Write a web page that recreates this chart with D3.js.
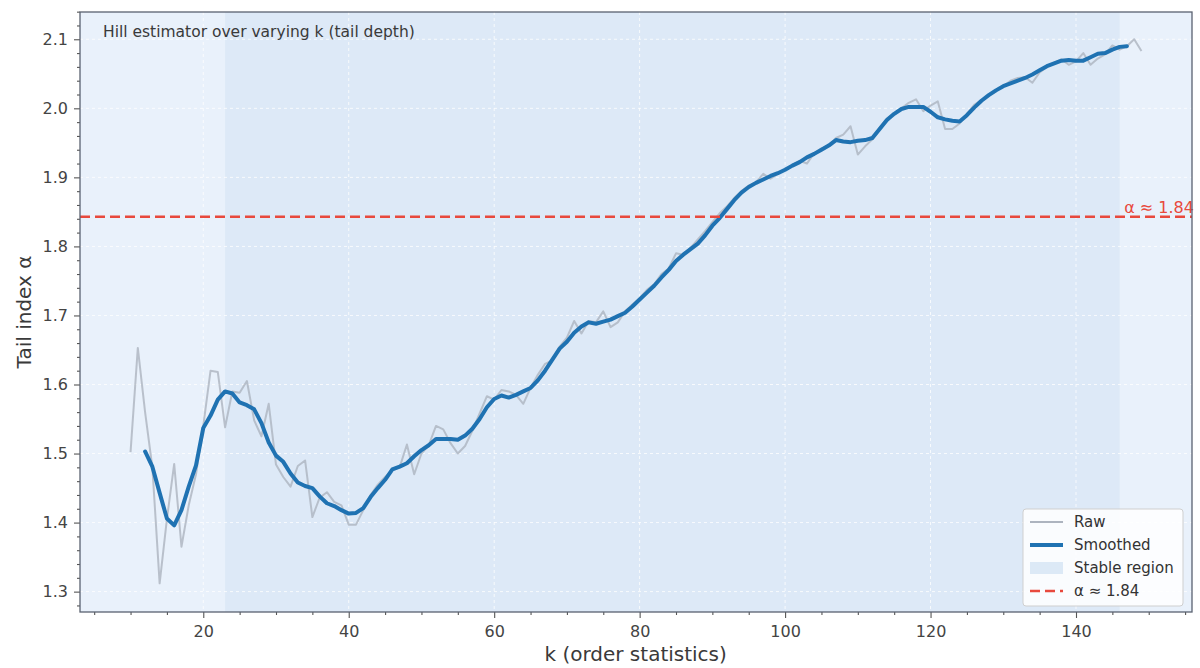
<!DOCTYPE html>
<html>
<head>
<meta charset="utf-8">
<script src="https://cdn.jsdelivr.net/npm/d3@7"></script>
<style>
  body { margin: 0; background: #fff; }
  svg { font-family: "DejaVu Sans", sans-serif; }
</style>
</head>
<body>
<svg id="chart" width="1200" height="668"></svg>
<script>
// raw Hill estimates, k = 10 .. 149
var rawK0 = 10;
var rawAlpha = [
  1.502, 1.653, 1.560, 1.480, 1.312, 1.405, 1.485, 1.365, 1.425, 1.470,
  1.540, 1.620, 1.618, 1.538, 1.590, 1.588, 1.605, 1.548, 1.525, 1.572,
  1.484, 1.466, 1.452, 1.482, 1.490, 1.408, 1.436, 1.444, 1.430, 1.425,
  1.397, 1.397, 1.418, 1.440, 1.455, 1.466, 1.476, 1.480, 1.513, 1.470,
  1.500, 1.512, 1.540, 1.535, 1.515, 1.500, 1.511, 1.533, 1.558, 1.583,
  1.578, 1.592, 1.590, 1.585, 1.572, 1.595, 1.614, 1.630, 1.635, 1.655,
  1.668, 1.692, 1.674, 1.692, 1.690, 1.706, 1.683, 1.690, 1.706, 1.716,
  1.725, 1.737, 1.745, 1.760, 1.768, 1.790, 1.788, 1.798, 1.810, 1.822,
  1.835, 1.848, 1.858, 1.870, 1.880, 1.888, 1.893, 1.905, 1.898, 1.905,
  1.912, 1.918, 1.924, 1.920, 1.935, 1.942, 1.946, 1.957, 1.962, 1.974,
  1.933, 1.945, 1.955, 1.972, 1.985, 1.992, 2.000, 2.008, 2.013, 1.996,
  2.004, 2.010, 1.970, 1.970, 1.978, 1.992, 2.005, 2.012, 2.018, 2.025,
  2.032, 2.040, 2.044, 2.045, 2.037, 2.052, 2.060, 2.066, 2.071, 2.063,
  2.068, 2.080, 2.063, 2.072, 2.078, 2.091, 2.085, 2.090, 2.100, 2.083
];

// smoothed curve, k = 12 .. 147
var smoothK0 = 12;
var smoothAlpha = [
  1.503, 1.481, 1.443, 1.406, 1.396, 1.418, 1.452, 1.483, 1.537, 1.555,
  1.578, 1.590, 1.587, 1.574, 1.570, 1.564, 1.544, 1.516, 1.497, 1.488,
  1.471, 1.458, 1.453, 1.450, 1.438, 1.428, 1.424, 1.418, 1.413, 1.414,
  1.421, 1.437, 1.450, 1.462, 1.477, 1.481, 1.486, 1.496, 1.505, 1.512,
  1.521, 1.521, 1.521, 1.520, 1.526, 1.536, 1.550, 1.567, 1.579, 1.584,
  1.581, 1.585, 1.590, 1.595, 1.606, 1.620, 1.636, 1.652, 1.662, 1.675,
  1.684, 1.690, 1.688, 1.691, 1.694, 1.699, 1.704, 1.713, 1.723, 1.733,
  1.743, 1.755, 1.766, 1.779, 1.788, 1.796, 1.804, 1.816, 1.830, 1.841,
  1.854, 1.867, 1.878, 1.886, 1.892, 1.897, 1.902, 1.906, 1.911, 1.917,
  1.922, 1.929, 1.934, 1.940, 1.946, 1.954, 1.952, 1.951, 1.953, 1.954,
  1.957, 1.970, 1.983, 1.992, 1.999, 2.002, 2.002, 2.002, 1.995, 1.987,
  1.984, 1.982, 1.981, 1.990, 2.001, 2.011, 2.019, 2.026, 2.032, 2.036,
  2.040, 2.044, 2.049, 2.055, 2.061, 2.065, 2.069, 2.070, 2.069, 2.069,
  2.074, 2.079, 2.080, 2.085, 2.089, 2.090
];

var stableRange = [23, 146];
var alphaHat = 1.843;
var alphaLabel = "α ≈ 1.84";

var xTicks = [20, 40, 60, 80, 100, 120, 140];
var yTicks = [1.3, 1.4, 1.5, 1.6, 1.7, 1.8, 1.9, 2.0, 2.1];

var legendItems = ["Raw", "Smoothed", "Stable region", alphaLabel];

var raw = rawAlpha.map(function(v, i) { return {k: rawK0 + i, a: v}; });
var smooth = smoothAlpha.map(function(v, i) { return {k: smoothK0 + i, a: v}; });

var svg = d3.select("#chart"),
    margin = {top: 12, right: 8, bottom: 56, left: 80},
    width = 1200 - margin.left - margin.right,
    height = 668 - margin.top - margin.bottom,
    g = svg.append("g").attr("transform", "translate(" + margin.left + "," + margin.top + ")");

var x = d3.scaleLinear().domain([3.05, 155.95]).range([0, width]);
var y = d3.scaleLinear().domain([1.2705, 2.1395]).range([height, 0]);

// axes background
g.append("rect")
    .attr("width", width).attr("height", height)
    .attr("fill", "#e9f1fb");

// stable region
g.append("rect")
    .attr("x", x(stableRange[0]))
    .attr("width", x(stableRange[1]) - x(stableRange[0]))
    .attr("height", height)
    .attr("fill", "#cfe1f2")
    .attr("opacity", 0.45);

// grid
g.append("g").selectAll("line").data(xTicks).enter().append("line")
    .attr("x1", function(d) { return x(d); }).attr("x2", function(d) { return x(d); })
    .attr("y1", 0).attr("y2", height)
    .attr("stroke", "#fff").attr("stroke-width", 1).attr("stroke-dasharray", "3,3").attr("opacity", 0.8);
g.append("g").selectAll("line").data(yTicks).enter().append("line")
    .attr("y1", function(d) { return y(d); }).attr("y2", function(d) { return y(d); })
    .attr("x1", 0).attr("x2", width)
    .attr("stroke", "#fff").attr("stroke-width", 1).attr("stroke-dasharray", "3,3").attr("opacity", 0.8);

var line = d3.line()
    .x(function(d) { return x(d.k); })
    .y(function(d) { return y(d.a); });

g.append("path")
    .datum(raw)
    .attr("fill", "none")
    .attr("stroke", "#adb4bf")
    .attr("stroke-opacity", 0.8)
    .attr("stroke-width", 2)
    .attr("stroke-linejoin", "round")
    .attr("d", line);

g.append("path")
    .datum(smooth)
    .attr("fill", "none")
    .attr("stroke", "#1f72b2")
    .attr("stroke-width", 4)
    .attr("stroke-linejoin", "round")
    .attr("stroke-linecap", "round")
    .attr("d", line);

// reference line
g.append("line")
    .attr("x1", 0).attr("x2", width)
    .attr("y1", y(alphaHat)).attr("y2", y(alphaHat))
    .attr("stroke", "#e8493d")
    .attr("stroke-width", 2.5)
    .attr("stroke-dasharray", "10,5");

g.append("text")
    .attr("x", x(148) - 10)
    .attr("y", y(alphaHat) - 4)
    .attr("fill", "#e8493d")
    .attr("font-size", 16)
    .text(alphaLabel);

// title in the axes
g.append("text")
    .attr("x", 23).attr("y", 25)
    .attr("fill", "#3a3a3a")
    .attr("font-size", 15.5)
    .text("Hill estimator over varying k (tail depth)");

// axes
var xAxis = g.append("g")
    .attr("transform", "translate(0," + height + ")")
    .call(d3.axisBottom(x).tickValues(xTicks).tickFormat(d3.format("d")).tickSize(6).tickPadding(8));
var xMinor = g.append("g")
    .attr("transform", "translate(0," + height + ")")
    .call(d3.axisBottom(x).tickValues(d3.range(5, 156, 5).filter(function(d) { return d % 20 !== 0; })).tickFormat("").tickSize(3));

var yAxis = g.append("g")
    .call(d3.axisLeft(y).tickValues(yTicks).tickFormat(d3.format(".1f")).tickSize(6).tickPadding(6));
var yMinor = g.append("g")
    .call(d3.axisLeft(y).tickValues(d3.range(1.28, 2.14, 0.02).filter(function(d) {
        return Math.abs(d * 10 - Math.round(d * 10)) > 0.01;
    })).tickFormat("").tickSize(3));

[xAxis, xMinor, yAxis, yMinor].forEach(function(a) {
  a.select(".domain").remove();
  a.selectAll("line").attr("stroke", "#555").attr("stroke-width", 1.1);
  a.selectAll("text").attr("fill", "#444").attr("font-size", 16).attr("font-family", "DejaVu Sans");
});

// spines
g.append("rect")
    .attr("width", width).attr("height", height)
    .attr("fill", "none")
    .attr("stroke", "#5a6270")
    .attr("stroke-width", 1.3);

// axis labels
svg.append("text")
    .attr("x", margin.left + x(80) - 4)
    .attr("y", 661)
    .attr("text-anchor", "middle")
    .attr("fill", "#3a3a3a")
    .attr("font-size", 20)
    .text("k (order statistics)");

svg.append("text")
    .attr("transform", "translate(31," + (margin.top + height / 2) + ") rotate(-90)")
    .attr("text-anchor", "middle")
    .attr("fill", "#3a3a3a")
    .attr("font-size", 20)
    .text("Tail index α");

// legend
var lg = svg.append("g").attr("transform", "translate(1023,509)");
lg.append("rect")
    .attr("width", 160).attr("height", 97)
    .attr("rx", 3)
    .attr("fill", "#fff").attr("fill-opacity", 0.85)
    .attr("stroke", "#cfcfcf");

var rows = lg.selectAll("g.item").data(legendItems).enter().append("g")
    .attr("class", "item")
    .attr("transform", function(d, i) { return "translate(0," + (13 + i * 23) + ")"; });

rows.each(function(d, i) {
  var r = d3.select(this);
  if (i === 0) {
    r.append("line").attr("x1", 7).attr("x2", 40).attr("stroke", "#adb4bf").attr("stroke-width", 2);
  } else if (i === 1) {
    r.append("line").attr("x1", 7).attr("x2", 40).attr("stroke", "#1f72b2").attr("stroke-width", 4);
  } else if (i === 2) {
    r.append("rect").attr("x", 7).attr("y", -6).attr("width", 33).attr("height", 12)
      .attr("fill", "#dce9f6");
  } else {
    r.append("line").attr("x1", 7).attr("x2", 40).attr("stroke", "#e8493d").attr("stroke-width", 2.5)
      .attr("stroke-dasharray", "10,5");
  }
  r.append("text")
    .attr("x", 51).attr("y", 5)
    .attr("fill", "#333")
    .attr("font-size", 15)
    .text(d);
});
</script>
</body>
</html>
